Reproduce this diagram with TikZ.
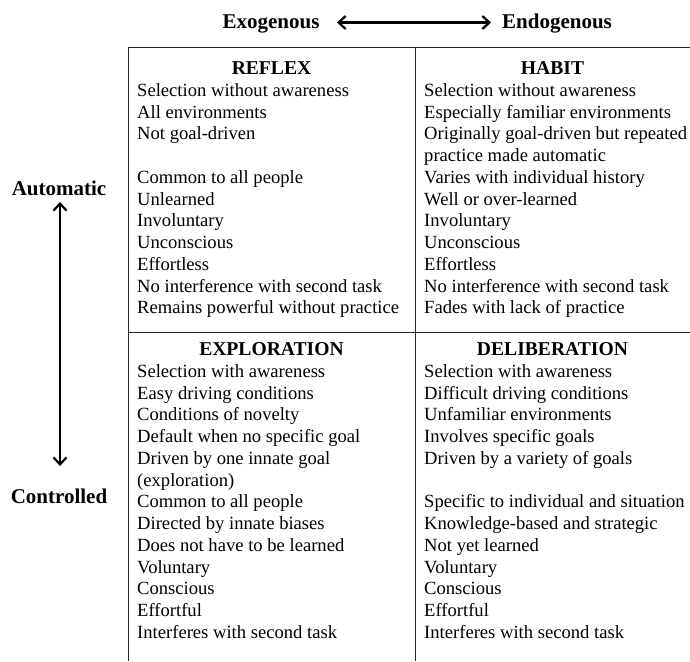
\documentclass[tikz,border=0pt]{standalone}
\usepackage{fontspec}
\setmainfont{Liberation Serif}
\usetikzlibrary{arrows.meta}
\newcommand\cellfont{\fontsize{18.6}{21.6}\selectfont}
\newcommand\headfont{\fontsize{19.6}{24}\selectfont\bfseries}
\newcommand\axisfont{\fontsize{21}{24}\selectfont\bfseries}
\tikzset{
  rule/.style={draw=black!85, line width=1pt},
  axis/.style={line width=2.2pt, {Straight Barb[length=7pt,width=13pt]}-{Straight Barb[length=7pt,width=13pt]}},
  entry/.style={anchor=base west, inner sep=0pt, font=\cellfont},
  title/.style={anchor=base, inner sep=0pt, font=\headfont},
  axislabel/.style={anchor=base, inner sep=0pt, font=\axisfont},
}
\begin{document}
\begin{tikzpicture}[x=1pt,y=-1pt]
\useasboundingbox (0,0) rectangle (690,661);
% grid of the four cells (open on the right and at the bottom)
\coordinate (tl) at (128,48);
\coordinate (tm) at (415,48);
\coordinate (tr) at (690,48);
\coordinate (ml) at (128,332);
\coordinate (mr) at (690,332);
\coordinate (bl) at (128,661);
\coordinate (bm) at (415,661);
\draw[rule] (tl) -- (tr);
\draw[rule] (ml) -- (mr);
\draw[rule] (tl) -- (bl);
\draw[rule] (tm) -- (bm);

% axis labels
\node[axislabel] (exo) at (271,28.5) {Exogenous};
\node[axislabel] (endo) at (557,28.5) {Endogenous};
\coordinate (ha) at (337,22.5);
\coordinate (hb) at (491,22.5);
\draw[axis] (ha) -- (hb);
\node[axislabel] (auto) at (59,195.5) {Automatic};
\node[axislabel] (ctrl) at (59,503.5) {Controlled};
\coordinate (va) at (60,202);
\coordinate (vb) at (60,466);
\draw[axis] (va) -- (vb);

\def\pitch{21.75}
\def\lx{137}
\def\rx{424}
\def\topbase{74.5}
\def\botbase{355.5}

% cell titles
\node[title] (reflex) at (271.5,\topbase) {REFLEX};
\node[title] (habit) at (552.5,\topbase) {HABIT};
\node[title] (explor) at (271.5,\botbase) {EXPLORATION};
\node[title] (delib) at (552.5,\botbase) {DELIBERATION};

% reflex
\foreach \k/\t in {1/Selection without awareness, 2/All environments,
  3/Not goal-driven, 5/Common to all people, 6/Unlearned, 7/Involuntary,
  8/Unconscious, 9/Effortless, 10/No interference with second task,
  11/Remains powerful without practice}
  \node[entry] (rf\k) at (\lx,\topbase+\k*\pitch) {\t};
% habit
\foreach \k/\t in {1/Selection without awareness, 2/Especially familiar environments,
  3/Originally goal-driven but repeated, 4/practice made automatic,
  5/Varies with individual history, 6/Well or over-learned, 7/Involuntary,
  8/Unconscious, 9/Effortless, 10/No interference with second task,
  11/Fades with lack of practice}
  \node[entry] (hb\k) at (\rx,\topbase+\k*\pitch) {\t};
% exploration
\foreach \k/\t in {1/Selection with awareness, 2/Easy driving conditions,
  3/Conditions of novelty, 4/Default when no specific goal,
  5/Driven by one innate goal, 6/(exploration), 7/Common to all people,
  8/Directed by innate biases, 9/Does not have to be learned, 10/Voluntary,
  11/Conscious, 12/Effortful, 13/Interferes with second task}
  \node[entry] (ex\k) at (\lx,\botbase+\k*\pitch) {\t};
% deliberation
\foreach \k/\t in {1/Selection with awareness, 2/Difficult driving conditions,
  3/Unfamiliar environments, 4/Involves specific goals,
  5/Driven by a variety of goals, 7/Specific to individual and situation,
  8/Knowledge-based and strategic, 9/Not yet learned, 10/Voluntary,
  11/Conscious, 12/Effortful, 13/Interferes with second task}
  \node[entry] (dl\k) at (\rx,\botbase+\k*\pitch) {\t};
\end{tikzpicture}
\end{document}
